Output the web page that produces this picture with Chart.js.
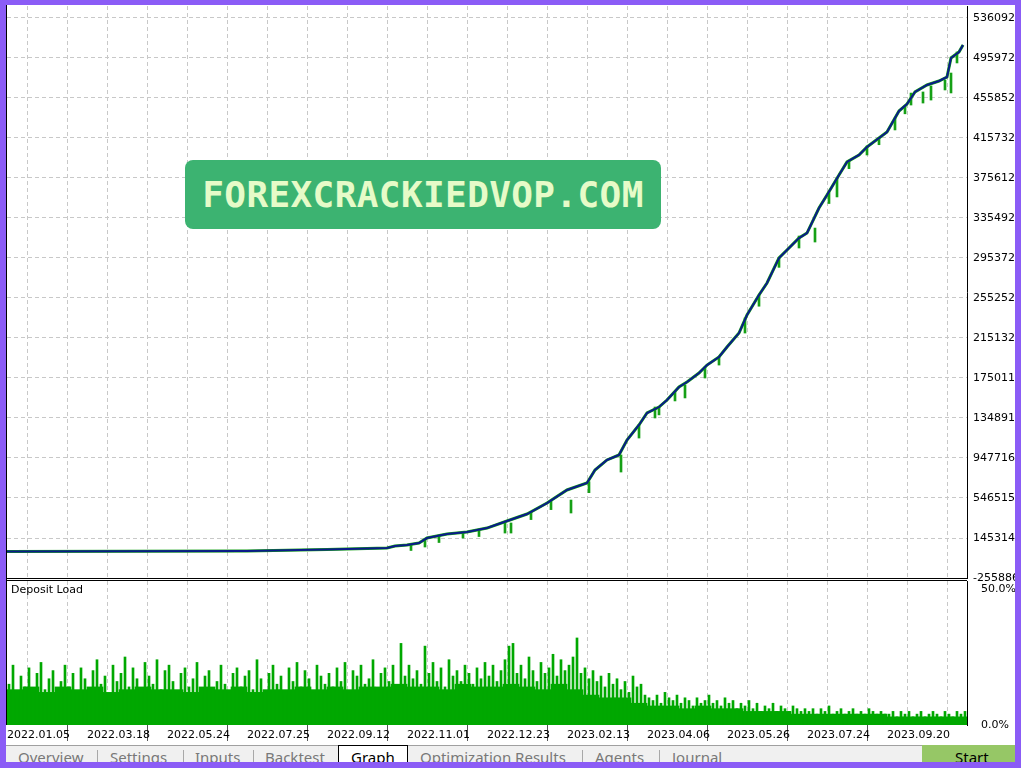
<!DOCTYPE html>
<html>
<head>
<meta charset="utf-8">
<script src="https://cdn.jsdelivr.net/npm/chart.js@4.4.0/dist/chart.umd.min.js"></script>
<style>
  body { margin: 0; width: 1021px; height: 768px; background: #fff; position: relative; overflow: hidden; font-family: 'DejaVu Sans', sans-serif; }
  canvas { position: absolute; }
  #main { left: 7px; top: 6px; }
  #load { left: 7px; top: 581px; background: #fff; }
  .frame { position: absolute; background: #8b5cf6; z-index: 20; }
  #leftline { position: absolute; left: 6px; top: 5px; width: 1px; height: 720px; background: #000; z-index: 5; }
  #dbl { position: absolute; left: 7px; top: 578px; width: 960px; height: 1px; border-top: 1px solid #000; border-bottom: 1px solid #000; z-index: 5; }
  #deplabel { position: absolute; left: 11px; top: 583px; font: 11px 'DejaVu Sans'; line-height: 13px; color: #000; z-index: 5; }
  #stamp { position: absolute; left: 185px; top: 160px; width: 476px; height: 69px; background: #3cb371; border-radius: 8px; display: flex; align-items: center; justify-content: center; color: #e6fbc8; font: bold 36px 'DejaVu Sans Mono', monospace; letter-spacing: 0.4px; z-index: 6; }
  #tabs { position: absolute; left: 6px; top: 745px; width: 1010px; height: 23px; background: #f0f0f0; border-top: 1px solid #a0a0a0; font: 15px 'Noto Sans', sans-serif; color: #787878; z-index: 8; }
  #tabs span { position: absolute; top: 1px; line-height: 20px; white-space: nowrap; }
  #tabs i { position: absolute; top: 4px; width: 1px; height: 20px; background: #a8a8a8; }
  #graphtab { position: absolute; left: 332px; top: -1px; width: 68px; height: 24px; background: #fff; border: 1px solid #000; border-bottom: none; }
  #start { position: absolute; left: 916px; top: -1px; width: 94px; height: 24px; background: #96c766; }
</style>
</head>
<body>
<canvas id="main" width="1008" height="584"></canvas>
<canvas id="load" width="1008" height="164"></canvas>
<div id="leftline"></div>
<div id="dbl"></div>
<div id="deplabel">Deposit Load</div>
<div id="stamp">FOREXCRACKIEDVOP.COM</div>
<div id="tabs">
  <span style="left:12px">Overview</span><i style="left:91px"></i>
  <span style="left:104px">Settings</span><i style="left:177px"></i>
  <span style="left:189px">Inputs</span><i style="left:247px"></i>
  <span style="left:259px">Backtest</span>
  <div id="graphtab"></div>
  <span style="left:345px;color:#000">Graph</span>
  <span style="left:414px">Optimization Results</span><i style="left:576px"></i>
  <span style="left:589px">Agents</span><i style="left:653px"></i>
  <span style="left:666px">Journal</span>
  <div id="start"></div>
  <span style="left:949px;color:#000">Start</span>
</div>
<div class="frame" style="left:0;top:0;width:1021px;height:5px"></div>
<div class="frame" style="left:0;top:0;width:6px;height:768px"></div>
<div class="frame" style="left:1015px;top:0;width:6px;height:768px"></div>
<div class="frame" style="left:0;top:762px;width:1021px;height:6px"></div>
<script>
// time axis: 0..240 steps across the test period
const xTickU = [0, 10, 20, 30, 40, 50, 60, 70, 80, 90, 100, 110, 120, 130, 140, 150, 160, 170, 180, 190, 200, 210, 220, 230];
const xLabels = ["2022.01.05", "2022.03.18", "2022.05.24", "2022.07.25", "2022.09.12", "2022.11.01",
                 "2022.12.23", "2023.02.13", "2023.04.06", "2023.05.26", "2023.07.24", "2023.09.20"];

// balance / equity axis
const yMin = -255886;
const yMax = 5481274;
const yTickValues = [-255886, 145314, 546515, 947716, 1348916, 1750116, 2151316, 2552516, 2953716, 3354916, 3756116, 4157316, 4558516, 4959716, 5360916];
const yTickLabels = ["-255886", "145314", "546515", "947716", "134891", "175011", "215132", "255252",
                     "295372", "335492", "375612", "415732", "455852", "495972", "536092"];

// balance curve
const balanceU = [0, 60, 80, 95, 97, 100, 103, 105, 110, 115, 120, 125, 130, 135, 140, 145, 147, 150, 153,
                  155, 158, 160, 163, 165, 168, 170, 173, 175, 178, 180, 183, 185, 188, 190, 193, 195, 198,
                  200, 203, 205, 208, 210, 213, 215, 218, 220, 223, 225, 227, 230, 233, 235, 236, 238, 239];
const balance = [10000, 15000, 30000, 45000, 65000, 75000, 95000, 145000, 185000, 205000, 245000, 316000, 386000,
                 496000, 627000, 697000, 827000, 928000, 978000, 1128000, 1279000, 1399000, 1459000, 1529000, 1660000,
                 1710000, 1800000, 1880000, 1961000, 2061000, 2201000, 2382000, 2583000, 2703000, 2954000, 3034000, 3154000,
                 3204000, 3455000, 3586000, 3786000, 3917000, 3987000, 4067000, 4157000, 4217000, 4428000, 4498000, 4619000,
                 4689000, 4729000, 4769000, 4960000, 5020000, 5090000];

// equity drawdown spikes
const spikeU = [101, 104.5, 108, 114, 118, 124.5, 126, 131, 136, 141, 145.5, 153.5, 158, 162, 163, 167, 169.5, 174.5, 178,
                184.5, 188, 193, 198, 202, 205.5, 207.5, 210.5, 215, 218, 222, 224.5, 226, 229, 231, 234.5, 236, 237.5];
const spikeLow = [20000, 55000, 100000, 145000, 160000, 195000, 195000, 330000, 430000, 396000, 600000, 807000, 1148000,
                  1349000, 1380000, 1520000, 1550000, 1750000, 1880000, 2201000, 2470000, 2860000, 3054000, 3114000,
                  3500000, 3566000, 3850000, 3987000, 4090000, 4238000, 4400000, 4488000, 4508000, 4538000, 4639000,
                  4609000, 4910000];
const spikeHigh = [80000, 125000, 165000, 205000, 230000, 296000, 296000, 405000, 515000, 526000, 710000, 978000, 1279000,
                   1459000, 1459000, 1615000, 1680000, 1860000, 1961000, 2352000, 2583000, 2954000, 3174000, 3254000,
                   3610000, 3756000, 3930000, 4077000, 4157000, 4358000, 4480000, 4608000, 4619000, 4679000, 4739000,
                   4809000, 5020000];

// deposit load, %
const loadTickValues = [0, 50];
const loadTickLabels = ["0.0%", "50.0%"];
const depositPeak = [
  15, 22, 10, 18, 14, 21, 12, 19, 23, 13, 17, 20, 11, 16, 22, 14, 19, 12, 21, 17,
  13, 20, 24, 15, 18, 11, 22, 16, 19, 25, 14, 21, 17, 12, 23, 18, 15, 24, 13, 20,
  22, 16, 12, 19, 21, 14, 17, 23, 11, 18, 20, 13, 16, 22, 15, 12, 19, 21, 14, 18,
  20, 13, 24, 17, 12, 19, 22, 15, 18, 11, 21, 16, 23, 14, 20, 17, 12, 22, 18, 15,
  19, 14, 21, 16, 23, 12, 20, 18, 22, 15, 17, 24, 13, 19, 21, 16, 22, 14, 30, 18,
  22, 17, 20, 15, 29, 19, 23, 16, 21, 14, 24, 18, 20, 16, 22, 19, 15, 21, 17, 23,
  18, 22, 16, 20, 24, 29, 30, 19, 22, 17, 25, 20, 16, 23, 19, 21, 26, 18, 24, 20,
  22, 25, 32, 19, 21, 17, 20, 16, 18, 14, 19, 15, 17, 13, 16, 12, 18, 14, 15, 11,
  10, 9, 11, 8, 12, 10, 9, 11, 8, 10, 9, 7, 10, 8, 9, 11, 8, 9, 7, 10,
  8, 9, 6, 8, 7, 9, 6, 8, 5, 7, 6, 8, 5, 7, 6, 5, 7, 6, 5, 6,
  5, 6, 4, 6, 5, 7, 4, 5, 6, 4, 5, 6, 4, 5, 4, 6, 5, 4, 5, 4,
  4, 5, 3, 5, 4, 5, 3, 4, 5, 3, 4, 5, 4, 3, 5, 4, 3, 5, 4, 5
];
const depositBase = [
  13, 14, 12, 14, 13, 14, 12, 13, 14, 13, 13, 12, 14, 13, 14, 12, 13, 13, 14, 13,
  14, 13, 14, 14, 15, 14, 14, 13, 15, 14, 14, 15, 14, 13, 15, 13, 11, 10, 10, 8,
  7, 7, 6, 7, 6, 6, 5, 5, 5, 4, 4, 4, 4, 4, 4, 3, 3, 3, 3, 3
];

Chart.defaults.font.family = "'DejaVu Sans', sans-serif";
Chart.defaults.font.size = 11;
Chart.defaults.color = "#000";

const gridLines = { color: "#c8c8c8", drawTicks: false };
const curve = balanceU.map((u, i) => ({ x: u, y: balance[i] }));

new Chart(document.getElementById("main"), {
    type: "line",
    data: {
        datasets: [
            { label: "Balance", data: curve, borderColor: "#0a1a8a", borderWidth: 2, pointRadius: 0, tension: 0, order: 0 },
            { label: "Equity", data: curve, borderColor: "#16a016", borderWidth: 3, pointRadius: 0, tension: 0, order: 1 },
            {
                type: "bar", label: "Drawdown",
                data: spikeU.map((u, i) => ({ x: u, y: [spikeLow[i], spikeHigh[i]] })),
                backgroundColor: "#16a016", barThickness: 2, order: 2
            }
        ]
    },
    options: {
        responsive: false,
        animation: false,
        events: [],
        layout: { padding: { top: 0, left: 0, right: 0, bottom: 12 }, autoPadding: false },
        plugins: { legend: { display: false }, tooltip: { enabled: false } },
        scales: {
            x: {
                type: "linear", min: 0, max: 240, offset: false,
                border: { display: false, dash: [4, 3] },
                grid: gridLines,
                ticks: { display: false, autoSkip: false },
                afterBuildTicks: s => { s.ticks = xTickU.map(v => ({ value: v })); },
                afterFit: s => { s.height = 0; s.paddingLeft = 0; s.paddingRight = 0; }
            },
            y: {
                position: "right", min: yMin, max: yMax,
                border: { display: true, color: "#000", width: 1, dash: [4, 3] },
                grid: gridLines,
                ticks: { padding: 6, autoSkip: false, callback: (v, i) => yTickLabels[i] },
                afterBuildTicks: s => { s.ticks = yTickValues.map(v => ({ value: v })); },
                afterFit: s => { s.width = 48; s.paddingTop = 0; s.paddingBottom = 0; }
            }
        }
    }
});

new Chart(document.getElementById("load"), {
    type: "bar",
    data: {
        datasets: [
            { label: "Load", data: depositPeak.map((v, i) => ({ x: i + 0.5, y: v })), backgroundColor: "#00a800", barThickness: 2, grouped: false },
            { label: "Base", data: depositBase.map((v, i) => ({ x: i * 4 + 2, y: v })), backgroundColor: "#00a800", barThickness: 16, grouped: false }
        ]
    },
    options: {
        responsive: false,
        animation: false,
        events: [],
        layout: { padding: 0, autoPadding: false },
        plugins: { legend: { display: false }, tooltip: { enabled: false } },
        scales: {
            x: {
                type: "linear", min: 0, max: 240, offset: false,
                border: { display: false, dash: [4, 3] },
                grid: {
                    color: "#c8c8c8",
                    drawTicks: true, tickLength: 16, tickBorderDash: [],
                    tickColor: c => (c.index % 2 === 0 && c.index > 0) ? "#555" : "rgba(0,0,0,0)"
                },
                ticks: {
                    autoSkip: false, maxRotation: 0, align: "start", padding: -12,
                    callback: (v, i) => i % 2 === 0 ? xLabels[i / 2] : ""
                },
                afterBuildTicks: s => { s.ticks = xTickU.map(v => ({ value: v })); },
                afterFit: s => { s.height = 20; s.paddingLeft = 0; s.paddingRight = 0; }
            },
            y: {
                position: "right", min: 0, max: 52.94,
                border: { display: true, color: "#000", width: 1 },
                grid: { display: false },
                ticks: { padding: 6, autoSkip: false, callback: (v, i) => loadTickLabels[i] },
                afterBuildTicks: s => { s.ticks = loadTickValues.map(v => ({ value: v })); },
                afterFit: s => { s.width = 48; s.paddingTop = 0; s.paddingBottom = 0; }
            }
        }
    }
});
</script>
</body>
</html>
